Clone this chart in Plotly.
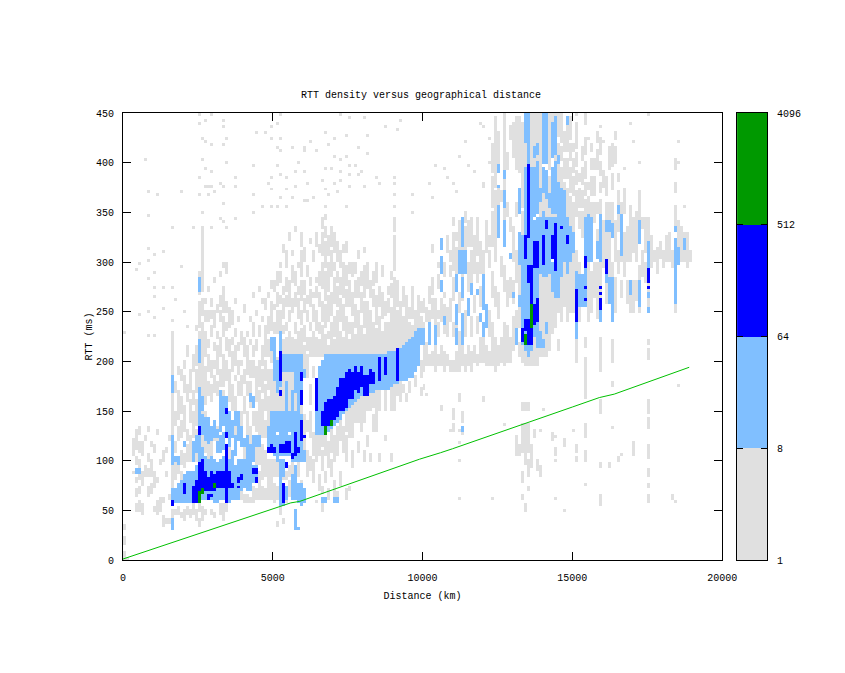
import plotly.graph_objects as go

# ----------- Values -----------
# one entry per distance bin: (km, [from, to, from, to, ...]) rtt runs in bins of 100 km x 3 ms
GREY_COLS = [
    (0,[0,9,15,24,30,36]),(100,[0,3]),(300,[105,122,87,90]),(400,[48,57,63,72,78,84,96,105,111,130]),
    (500,[50,60,66,75,81,100,110,120,126,135]),(600,[47,57,75,90,105,120]),(700,[84,96,120,126]),
    (800,[63,75,84,93,99,108,129,135]),(900,[66,78,84,100,116,120]),(1000,[48,54,72,90,108,117]),
    (1100,[45,60,78,84,126,132]),(1200,[48,63,96,102]),(1300,[33,45,57,63,99,111]),(1400,[36,42,84,90,108,114]),
    (1500,[36,42,60,66,120,126]),(1600,[42,50,54,230]),
    (1700,[45,50,63,72,81,100,110,120,135,150,170,180]),
    (1800,[45,54,66,78,87,95,120,135,141,170,186,195]),
    (1900,[42,48,75,90,96,110,125,140,147,165,180,190]),
    (2000,[40,50,95,108,114,120,130,155,170,186,192,200]),
    (2100,[45,54,100,115,121,130,160,175,205,215]),
    (2200,[42,50,100,125,140,160,168,190]),
    (2300,[45,55,100,115,125,150,156,170,190,205]),
    (2400,[40,50,100,130,135,160,170,190,196,215,232,236]),
    (2500,[35,42,48,55,60,150,156,230,236,260,268,290]),(2600,[40,54,60,240,246,262,270,335]),
    (2700,[45,50,110,150,156,195,204,230,240,252,258,264]),
    (2800,[100,115,165,180,189,205,215,222,240,250,270,276]),
    (2900,[45,50,105,135,160,175,184,200,225,236,244,250,255,262]),
    (3000,[42,48,120,140,170,186,192,200,212,218,235,250,280,285]),
    (3100,[115,135,165,180,186,215,222,230,250,256]),
    (3200,[45,57,130,150,175,190,205,225,240,250,256,265,285,290]),
    (3300,[40,57,148,170,176,205,225,245,251,275,295,300]),
    (3400,[50,57,140,165,180,200,210,225,231,240,250,260,290,300]),
    (3500,[100,125,160,190,205,222,235,255]),
    (3600,[60,70,150,175,190,210,216,225,238,250]),
    (3700,[62,70,120,135,150,165,180,186,195,215,225,232,258,262]),
    (3800,[60,72,165,180,186,200,210,218,240,246]),
    (3900,[62,75,135,150,165,185,195,201,218,230]),
    (4000,[57,66,100,115,148,165,177,190,205,225,250,256]),
    (4100,[57,65,125,150,165,180,186,215,225,231]),
    (4200,[57,62,115,135,155,178,184,200,218,222,240,246]),
    (4300,[57,75,110,125,135,150,185,200,206,215,225,240,265,270]),
    (4400,[60,72,90,115,130,150,160,195,210,222,246,252]),
    (4500,[60,90,96,115,125,170,176,200,225,235,270,276]),
    (4600,[60,75,81,115,125,160,168,190,195,215,240,246,258,262]),
    (4700,[60,72,85,110,125,140,150,175,180,200,206,235,252,262]),
    (4800,[60,100,135,165,171,190,205,222,228,245,265,270]),
    (4900,[60,100,150,190,200,225,231,260,275,280]),
    (5000,[57,78,84,100,150,185,205,222,228,240,252,258,270,280]),
    (5100,[33,38,60,75,85,100,150,188,195,204,230,250,256,270,276,290]),
    (5200,[45,57,75,95,150,175,230,252,258,265,280,290,296,300]),
    (5300,[36,42,60,75,81,95,150,190,207,222,228,235,245,262,268,275,310,316]),
    (5400,[57,75,81,90,150,190,207,225,231,240,255,265,271,285,295,310]),
    (5500,[65,80,86,95,150,190,207,230,240,250,256,280,322,328]),
    (5600,[60,70,76,100,150,190,207,225,250,262,280,295,306,312]),
    (5700,[75,95,150,190,207,222,228,240,255,270,276,290,330,336]),
    (5800,[60,78,84,100,145,180,207,230,245,262,268,275,295,300]),
    (5900,[57,65,71,80,145,160,207,232,238,250,262,280,286,310,316,330]),
    (6000,[62,72,110,145,190,215,221,235,250,262,268,280,300,315]),
    (6100,[85,110,130,140,185,205,211,225,240,252,258,265,285,295]),
    (6200,[90,105,125,150,156,175,205,225,231,240,255,272,278,285,318,324]),
    (6300,[80,100,106,127,183,195,205,230,240,258,264,270,300,310]),
    (6400,[57,60,100,115,118,127,205,225,231,250,265,275,281,285,315,330]),
    (6500,[70,85,105,127,205,222,228,240,255,270,276,290,310,316]),
    (6600,[50,62,68,75,90,110,116,125,205,235,241,260,275,300,306,330,335,345]),
    (6700,[80,90,105,125,205,228,234,256,262,290,296,320,326,335,342,348]),
    (6800,[60,70,95,120,205,216,222,230,240,265,271,300,306,325]),
    (6900,[85,100,110,130,205,240,246,270,285,310,316,335]),
    (7000,[65,80,100,125,205,220,226,245,260,285,291,300,310,330]),
    (7100,[60,68,105,135,205,250,256,275,281,290,300,320]),
    (7200,[75,90,120,140,205,230,240,262,268,285,295,310]),
    (7300,[110,135,205,225,231,258,264,300,310,318]),
    (7400,[60,72,100,125,131,150,205,245,255,272,278,295,310,320]),
    (7500,[70,75,125,153,205,222,228,240,255,282,288,300]),
    (7600,[95,110,125,156,205,240,246,270,285,300]),
    (7700,[140,160,205,228,234,258,264,282,288,300]),
    (7800,[110,120,140,163,205,250,265,285,305,310]),
    (7900,[130,165,207,235,250,270,276,290]),
    (8000,[100,110,140,168,207,228,234,260,266,295,310,315]),
    (8100,[115,125,150,170,207,260,275,300]),
    (8200,[100,106,150,170,207,250,265,280]),
    (8300,[130,145,155,170,207,240,255,272,278,290]),
    (8400,[130,172,207,232,238,265,280,300]),
    (8500,[100,108,150,172,207,245,255,275]),
    (8600,[207,230,245,270,285,295]),
    (8700,[120,125,150,172,207,240,246,260]),
    (8800,[207,240,250,262,268,275]),
    (8900,[100,106,150,175,210,255,265,278,284,290]),
    (9000,[150,177,210,285,291,325,330,345]),(9100,[165,177,212,250,256,280]),(9200,[160,180,212,260]),
    (9300,[170,176,215,245,255,275]),(9400,[160,166,218,265]),(9500,[170,178,220,238,244,255]),
    (9600,[218,235,245,275]),(9700,[175,185,230,250]),(9800,[225,265]),(9900,[165,170,185,200,225,244,250,260]),
    (10000,[172,176,190,217,234,238,250,262]),(10100,[165,168,195,217,240,255]),
    (10200,[195,205,240,252,258,275]),(10300,[195,210,245,262,268,285,310,316]),
    (10400,[190,215,237,262]),(10500,[195,205,225,238,244,250,275,288,294,300]),
    (10600,[150,155,195,215,240,262]),(10700,[190,210,230,237,244,258,264,270,285,300]),
    (10800,[195,205,225,255,310,325]),(10900,[190,200,240,262,285,296,302,310]),
    (11000,[130,138,143,152,190,200,225,240,262,285,291,330,336,345]),
    (11100,[190,210,225,237,290,315,321,330]),(11200,[130,132,160,168,190,230,250,270,312,340]),
    (11300,[138,150,195,215,262,300,306,335]),(11400,[190,205,225,250,312,335,341,350]),
    (11500,[195,215,270,300,315,340]),(11600,[190,210,225,245,280,310,316,345]),
    (11700,[200,215,250,265,290,325]),(11800,[195,205,230,245,280,300,306,345]),
    (11900,[200,225,255,275,290,320]),(12000,[160,163,200,225,288,310,375,380]),
    (12100,[195,215,240,255,310,340]),(12200,[195,210,225,250,295,310,316,325]),
    (12300,[195,240,265,290,315,350,356,385,391,420]),(12400,[190,225,255,275,300,370,376,445]),
    (12500,[195,215,245,270,357,375,399,430]),(12600,[200,225,285,305,360,370]),
    (12700,[195,240,270,295,342,355,370,385,392,450]),(12800,[200,235,255,280,345,360,395,410]),
    (12900,[200,225,265,285,330,345,425,437]),(13000,[210,245,260,280,300,335,405,440]),
    (13100,[107,125,234,250,280,310,345,360,395,445]),(13200,[105,115,205,217,234,255,265,297,390,445]),
    (13300,[60,66,80,90,108,137,150,157,200,217,325,350,356,440]),
    (13400,[50,55,97,107,110,137,150,157,195,210,395,420]),
    (13500,[70,75,85,100,108,137,150,157,195,205]),(13600,[95,115,195,212,395,450]),
    (13700,[125,130,195,225,395,405,415,450]),(13800,[92,100,195,215,400,410,420,450]),
    (13900,[85,95,130,132,205,215,230,290,345,360,375,450]),(14000,[150,153,205,215,222,285,350,370]),
    (14100,[205,230,240,285,345,365]),(14200,[210,290,345,355,368,385,395,450]),
    (14300,[120,127,230,270,345,350,440,450]),(14400,[60,62,105,113,235,265,345,350,400,410,445,450]),
    (14500,[210,222,250,265,380,400,406,420,426,450]),(14600,[240,285,375,395,402,415,421,450]),
    (14700,[115,122,255,300,370,380,386,405,411,430]),(14800,[240,290,345,375,385,405,412,440]),
    (14900,[250,300,335,365,371,395,402,418,424,445]),(15000,[250,310,330,360,366,385,391,405,412,420]),
    (15100,[100,105,110,115,200,224,291,310,345,372,378,392,398,410,416,440]),(15200,[240,255,287,300,335,350,356,375,382,390]),
    (15300,[255,287,325,350,356,372,380,395,402,415]),
    (15400,[75,77,100,110,123,137,162,202,215,225,345,362,368,380,386,402,410,425,440,450]),
    (15500,[240,300,348,364,372,380]),(15600,[250,290,345,360,368,385,395,405,412,420]),(15700,[265,300,340,360,366,385,395,405]),
    (15800,[245,300,320,332,350,360,395,412,420,430]),
    (15900,[55,64,95,97,147,162,190,225,250,300,348,362,370,380,388,400,410,425]),
    (16000,[295,340,375,392]),(16100,[260,280,303,330,340,358,366,385]),(16200,[95,97,285,330,342,360,395,415]),
    (16300,[133,135,175,180,200,220,284,300,337,360,372,390,396,420]),
    (16400,[250,285,300,340,400,415,424,430]),(16500,[100,103,290,310,330,350,356,372,382,390]),
    (16600,[105,107,265,280,300,307,348,360]),(16700,[285,330,350,375]),
    (16800,[260,280,300,335]),(16900,[250,267,300,355]),(17000,[105,118,250,280,310,345]),
    (17100,[262,280,300,350]),(17200,[250,255,282,295,342,370]),(17300,[285,310,335,345]),(17400,[280,300,310,345]),
    (17500,[58,66,72,77,85,92,102,115,132,143,147,152,155,162,203,212,218,222,255,264,270,279,319,345]),
    (17600,[295,325]),(17700,[300,310]),(17800,[290,315]),(17900,[305,320]),(18000,[295,310]),(18100,[300,325]),
    (18200,[300,330]),(18300,[60,66,295,310]),(18400,[57,60,250,260,335,355,370,380,395,405]),
    (18500,[175,177,314,340]),(18600,[300,335]),(18700,[300,312,316,320,324,330]),(18800,[295,330]),(18900,[300,310]),
]
GREY_SPECKS = [
    (2500,449),(2900,449),(3300,443),(2500,440),(2700,443),(3300,437),(2600,425),(2700,422),(2900,419),(3400,425),
    (3300,419),(700,404),(2600,402),(3400,401),(4300,398),(2700,393),(2900,392),(2500,384),(3700,386),(3200,380),
    (3300,377),(3700,377),(2700,377),(2800,377),(2900,377),(800,371),(1100,368),(1900,371),(2500,368),(2800,367),
    (3000,371),(3300,359),(2600,350),(800,347),(4300,350),(4300,368),(3200,342),(3700,342),(3400,335),(3300,339),
    (2900,335),(2300,335),(1600,335),(800,314),(1300,311),(1000,308),(1900,296),(500,299),(400,293),(800,302),
    (1000,289),(800,282),(1000,274),(1300,275),(1600,275),(1000,266),(1700,261),(800,251),(1300,254),(2000,251),
    (500,248),(1600,242),(1000,243),(2100,236),(800,227),(1000,227),(0,229),(4400,431),(4700,431),(4900,437),
    (5100,438),(5200,448),(4900,425),(5200,425),(5100,416),(5600,416),(6000,416),(5200,411),(6000,411),(6400,413),
    (6200,422),(6700,431),(7000,425),(7400,428),(6800,419),(7200,449),(7500,446),(8000,446),(9200,443),(8700,437),
    (9100,434),(8100,428),(7800,414),(8100,410),(7400,405),(7000,407),(7200,404),(7500,396),(7700,396),(7900,390),
    (5100,396),(5800,401),(5200,389),(5400,385),(5700,392),(6000,392),(6700,393),(6900,393),(7200,392),(7500,389),
    (7800,389),(8400,386),(9000,386),(6600,383),(4900,386),(4800,380),(4900,374),(5700,377),(6100,380),(7000,380),
    (7200,381),(7500,377),(8000,377),(8500,380),(9000,380),(6700,374),(6800,368),(7100,371),(5400,374),(9000,368),
    (9600,368),(6300,365),(5200,365),(5600,365),(6000,361),(6100,361),(5400,356),(4600,356),(4900,356),(5100,356),
    (7400,356),(6700,354),(9000,355),(9600,350),(10100,165),(9900,172),(10600,152),(11300,128),(10900,130),(11000,130),
    (11200,118),(11200,100),(11200,60),(12300,60),(12700,135),(14400,125),(14400,100),(14400,60),(14700,48),(15000,130),
    (10200,378),(10400,398),(10700,395),(10800,385),(11200,405),(11000,380),(11500,398),(11700,392),(11100,370),(10300,365),
    (11400,420),(11900,440),(12000,435),(12200,425),(12200,400),(16700,395),(16900,440),(17500,447),(17000,420),(17200,400),
    (18500,420),(18500,400),(18700,355),(16500,345),(16000,420),(15500,425),(15100,447),(15900,437),(15400,445),
]
LIGHT_RUNS = [
    (400,87,91),(500,87,91),(1600,30,40),(1600,57,70),(1600,97,125),(1600,170,185),(1700,57,72),(1700,100,103),
    (1800,57,78),(1800,96,105),(1900,57,80),(2000,57,85),(2000,115,120),(2100,57,88),(2200,57,90),
    (2300,57,90),(2300,100,120),(2400,57,95),(2400,108,125),
    (2500,60,125),(2500,135,173),(2500,200,222),(2500,270,275),(2500,278,285),(2600,60,112),(2600,128,145),(2600,150,165),
    (2700,60,105),(2700,120,143),(2800,60,100),(2800,118,143),(2900,60,105),(2900,122,135),(3000,57,100),(3000,125,140),
    (3100,57,98),(3100,110,120),(3100,125,130),(3200,60,100),(3200,110,125),(3200,130,170),(3300,60,105),(3300,112,128),(3300,135,165),
    (3400,57,105),(3400,125,165),(3500,57,100),(3500,115,150),(3600,60,110),(3600,125,140),
    (3700,60,95),(3700,105,125),(3700,135,150),(3800,62,100),(3800,120,150),(3900,70,100),(3900,115,135),(4000,72,100),(4000,115,122),
    (4100,70,125),(4200,70,115),(4200,160,167),(4300,78,95),(4300,100,125),(4300,155,165),
    (4400,85,95),(4400,115,125),(4500,115,125),(4800,113,133),(4900,110,150),(4900,210,225),(5000,105,150),(5000,180,225),
    (5100,100,125),(5100,130,150),(5100,170,200),(5200,55,100),(5200,105,150),(5200,175,230),(5300,55,75),(5300,84,100),(5300,105,150),(5300,190,207),
    (5400,62,75),(5400,105,150),(5400,150,180),(5400,190,207),(5500,105,125),(5500,130,150),(5500,190,207),(5600,60,85),(5600,100,170),(5600,190,207),
    (5700,30,50),(5700,60,95),(5700,100,150),(5700,170,207),(5800,30,33),(5800,57,78),(5800,100,180),(5800,180,207),
    (5900,55,77),(5900,100,145),(5900,160,207),(6000,57,72),(6000,100,110),(6000,185,190),
    (6400,128,183),(6500,128,195),(6600,128,200),(6700,128,205),(6800,130,205),(6900,133,205),(7000,136,205),
    (7100,140,205),(7200,143,205),(7300,147,205),(7400,150,205),(7500,153,205),(7600,156,205),(7700,160,205),
    (7800,163,205),(7900,165,207),(8000,168,207),(8100,170,207),(8200,170,207),(8300,170,207),(8400,172,207),
    (8500,172,207),(8600,172,207),(8700,172,207),(8800,172,210),(8900,175,210),(9000,177,210),(9100,177,212),
    (9200,180,212),(9300,180,215),(9400,180,218),(9500,183,220),(9600,185,225),(9700,190,230),(9800,195,232),(9900,217,234),
    (6600,57,63),(6700,57,63),(7000,57,63),(7100,57,63),
    (10000,217,234),(10200,217,240),(10400,217,237),(10600,271,282),(10600,289,306),(10600,314,324),(10700,237,244),
    (11100,237,257),(11100,271,287),(11100,217,234),(11200,289,312),(11300,130,133),(11300,217,247),(11300,266,285),(11300,289,312),(11300,317,345),
    (11400,289,312),(11500,247,264),(11600,267,279),(11800,267,273),(11900,240,248),(12000,225,240),(12000,254,288),
    (12100,234,257),(12500,324,357),(12500,375,378),(12500,391,399),(12700,315,342),(12700,355,370),(12700,385,392),
    (12900,304,309),(13000,264,270),(13100,217,234),(13200,297,330),(13200,255,265),(13200,350,375),
    (13300,217,300),(13300,297,325),(13400,210,395),(13400,420,450),(13500,205,450),
    (13600,212,395),(13700,225,340),(13700,345,395),(13700,405,415),(13800,215,345),(13800,350,400),(13800,410,420),
    (13900,215,230),(13900,290,345),(13900,360,375),(14000,215,222),(14000,285,350),(14000,370,395),(14000,400,450),
    (14100,230,240),(14100,285,345),(14100,365,392),(14100,400,450),(14200,290,345),(14200,355,368),
    (14300,270,300),(14300,310,345),(14300,350,395),(14300,405,440),(14400,265,345),(14400,350,400),(14400,410,445),
    (14500,265,380),(14500,400,406),(14600,285,375),(14700,300,370),(14800,290,345),(14800,440,446),
    (14900,300,335),(15000,310,330),(15100,224,291),(15200,255,287),(15300,255,287),(15400,255,287),(15400,290,345),(15500,300,348),
    (15600,300,345),(15800,305,320),(15900,240,250),(15900,300,348),(16100,280,300),(16100,330,340),(16200,260,285),(16200,330,342),
    (16300,241,284),(16300,325,337),(16500,350,356),(16600,307,348),(16900,267,282),(17200,255,262),(17200,265,282),(17200,319,336),(17200,337,342),
    (17500,250,255),(17500,264,270),(17500,294,319),(18400,260,297),(18400,297,324),(18400,330,335),(18500,297,314),(18700,312,316),(18700,320,324),
]
BLUE_RUNS = [
    (1600,54,60),(2000,68,77),(2300,57,75),(2400,57,80),(2500,57,97),(2500,128,134),(2600,70,100),(2700,70,88),
    (2800,70,82),(2800,60,65),(2900,71,88),(2900,63,66),(3000,71,85),(3100,73,90),(3200,72,88),(3300,72,90),
    (3400,57,68),(3400,68,83),(3400,83,117),(3400,125,128),(3400,147,152),(3500,72,90),(3600,72,78),
    (3800,72,75),(3800,80,83),(3900,82,85),(4300,88,91),(4400,88,91),(4400,80,83),
    (4800,110,113),(4900,108,115),(5000,110,113),(5200,110,115),(5200,165,170),(5200,180,208),(5300,58,77),(5300,110,115),(5300,108,112),
    (5400,95,98),(5400,108,118),(5500,108,118),(5600,103,106),(5700,107,127),(5800,110,113),(5900,120,140),(5900,158,170),(5900,180,188),
    (6000,123,126),(6400,152,182),
    (6600,137,150),(6700,134,158),(6800,135,162),(6900,140,162),(7000,143,163),(7100,145,173),(7200,150,182),
    (7300,152,182),(7400,153,188),(7500,162,192),(7600,163,187),(7700,173,194),(7800,170,187),(7900,175,194),
    (8000,167,185),(8100,167,185),(8200,177,191),(8300,177,187),(8500,180,203),(8700,188,203),(9100,180,212),
    (13300,220,233),(13400,231,241),(13400,304,327),(13500,280,297),(13500,324,391),(13500,395,397),(13500,228,241),(13500,217,228),
    (13600,258,279),(13600,280,297),(13600,217,235),(13700,237,256),(13700,294,321),(13800,240,262),(13800,294,321),
    (14000,297,327),(14100,333,340),(14300,304,327),(14400,292,339),(14600,333,336),(14800,318,327),
    (15100,241,273),(15400,301,306),(15400,295,298),(15400,273,276),(15400,261,264),(15900,273,276),(15900,267,270),(15900,252,264),
    (16100,288,303),(17500,279,294),(17500,273,276),
]
GREEN_RUNS = [
    (2500,57,67),(2600,68,71),(3000,74,77),(6700,128,134),(6900,137,140),(13400,217,228),(13600,235,258),
]
# lower bound line
LIMIT_KM = [0, 5600, 5900, 9900, 10600, 11000, 15000, 15900, 16400, 18900]
LIMIT_MS = [1, 57.5, 59, 101.5, 108, 112, 154, 163.5, 167, 194]

LEVEL_TICKS = [1, 8, 64, 512, 4096]
X_TICKS = [0, 5000, 10000, 15000, 20000]
Y_TICKS = [0, 50, 100, 150, 200, 250, 300, 350, 400, 450]

# ----------- Build the density grid -----------
BIN_KM = 100
BIN_MS = 3
n_cols = 20000 // BIN_KM
n_rows = 450 // BIN_MS
grid = [[None] * n_cols for _ in range(n_rows)]


def paint(runs, level):
    for km, lo, hi in runs:
        first = int(lo // BIN_MS)
        last = max(first, int((hi - 1) // BIN_MS))
        for r in range(first, min(last, n_rows - 1) + 1):
            grid[r][km // BIN_KM] = level


grey_runs = [(km, r[i], r[i + 1]) for km, r in GREY_COLS for i in range(0, len(r), 2)]
paint(grey_runs, 0.5)
paint([(km, ms, ms) for km, ms in GREY_SPECKS], 0.5)
paint(LIGHT_RUNS, 1.5)
paint(BLUE_RUNS, 2.5)
paint(GREEN_RUNS, 3.5)

x_centres = [BIN_KM * (i + 0.5) for i in range(n_cols)]
y_centres = [BIN_MS * (i + 0.5) for i in range(n_rows)]

FONT = dict(family="Liberation Mono", size=10, color="black")
colours = ["#e0e0e0", "#80bfff", "#0000ff", "#009900"]
stepped = []
for i, c in enumerate(colours):
    stepped += [[i / 4, c], [(i + 1) / 4, c]]

fig = go.Figure()
fig.add_trace(go.Heatmap(x=x_centres, y=y_centres, z=grid, zmin=0, zmax=4, colorscale=stepped,
                         hoverongaps=False, showscale=False, xaxis="x", yaxis="y"))
fig.add_trace(go.Scatter(x=LIMIT_KM, y=LIMIT_MS, mode="lines", line=dict(color="#00c000", width=1),
                         showlegend=False, xaxis="x", yaxis="y"))
# colour box drawn as its own little axes so that the ticks go on both sides
fig.add_trace(go.Heatmap(x=[0.5], y=[0.5, 1.5, 2.5, 3.5], z=[[0.5], [1.5], [2.5], [3.5]], zmin=0, zmax=4,
                         colorscale=stepped, showscale=False, xaxis="x2", yaxis="y2"))

# the drawing area comes out about 696 px wide, 600 for the main axes, the colour box 15 px further right
PAPER_W = 696
axis = dict(showgrid=False, zeroline=False, showline=True, linecolor="black", linewidth=1, mirror="ticks",
            ticks="inside", tickcolor="black", tickwidth=1, tickfont=FONT)
fig.update_layout(
    width=837, height=665, autosize=False, margin=dict(l=115, r=22, t=105, b=113, pad=0),
    paper_bgcolor="white", plot_bgcolor="white", font=FONT,
    title=dict(text="RTT density versus geographical distance", font=FONT, x=413 / 837, xref="container",
               xanchor="center", y=1 - 86 / 665, yref="container", yanchor="middle"),
    xaxis=dict(domain=[0, 600 / PAPER_W], range=[0, 20000], tickvals=X_TICKS, tickformat="d", ticklen=8,
               ticklabelstandoff=8, title=dict(text="Distance (km)", font=FONT, standoff=8), **axis),
    yaxis=dict(domain=[0, 1], range=[0, 450], tickvals=Y_TICKS, ticklen=8, ticklabelstandoff=6,
               title=dict(text="RTT (ms)", font=FONT, standoff=1), **axis),
    xaxis2=dict(domain=[615 / PAPER_W, 645 / PAPER_W], anchor="y2", range=[0, 1], showticklabels=False,
                showgrid=False, zeroline=False, showline=True, linecolor="black", mirror=True, ticks=""),
    yaxis2=dict(domain=[0, 1], anchor="x2", side="right", range=[0, 4], tickvals=list(range(5)),
                ticktext=[str(v) for v in LEVEL_TICKS], ticklen=6, ticklabelstandoff=7, **axis),
)
fig.write_html("out.html")
